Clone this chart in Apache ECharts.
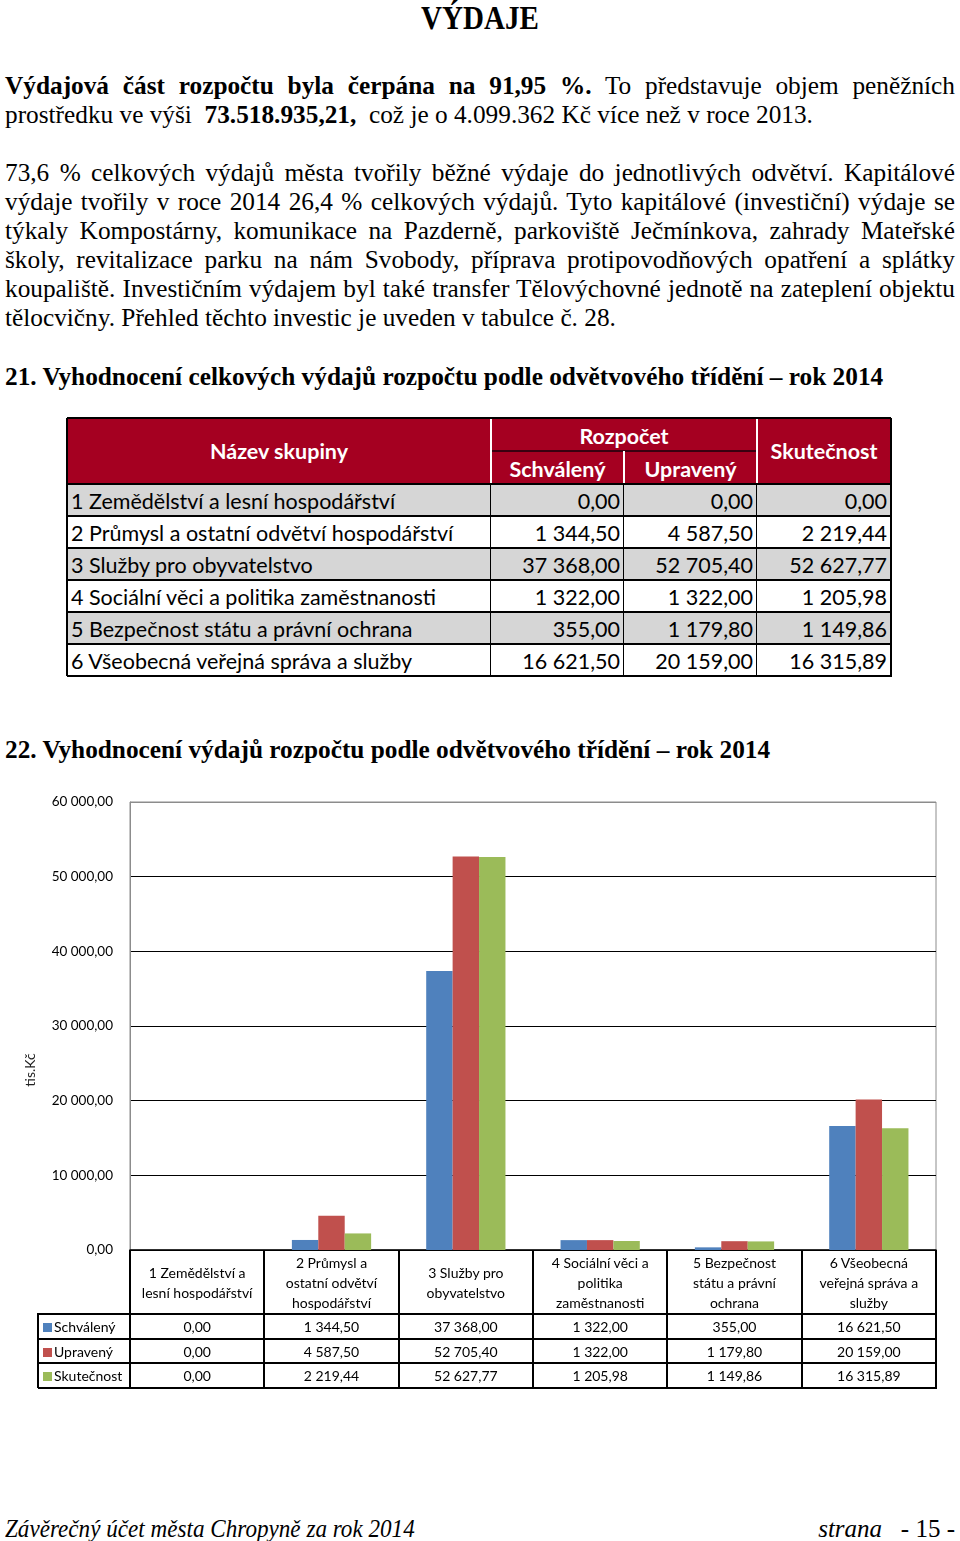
<!DOCTYPE html>
<html><head><meta charset="utf-8">
<script src="https://cdn.jsdelivr.net/npm/echarts@6.0.0/dist/echarts.min.js"></script>
<style>
html,body{margin:0;padding:0;background:#fff}
body{width:960px;height:1541px;position:relative;overflow:hidden;font-family:"Liberation Serif","Times New Roman",serif;color:#000}
.tx{position:absolute;left:5px;white-space:nowrap;transform-origin:0 0;font-size:25.3px;line-height:29px;height:29px}
.j{text-align:justify;text-align-last:justify;width:950px}
.b{font-weight:bold}
.cell{position:absolute;box-sizing:border-box;font-family:Lato,"Open Sans",sans-serif;white-space:nowrap;overflow:hidden}
.t1{font-size:21.5px;line-height:32px}
.t2{font-size:14px;color:#000;text-align:center}
.hl{position:absolute;background:#000}
#chart{position:absolute;left:0;top:780px;width:960px;height:620px}
</style>
</head><body>

<div class="tx b" style="left:480px;top:2px;font-size:33px;line-height:32px;transform:translateX(-50%) scaleX(0.88);transform-origin:50% 0">VÝDAJE</div>

<div class="tx j" style="top:71px"><span class="b">Výdajová část rozpočtu byla čerpána na 91,95 %.</span> To představuje objem peněžních</div>
<div class="tx" style="top:100px">prostředku ve výši &nbsp;<span class="b">73.518.935,21,</span> &nbsp;což je o 4.099.362 Kč více než v roce 2013.</div>

<div class="tx j" style="top:158px">73,6 % celkových výdajů města tvořily běžné výdaje do jednotlivých odvětví. Kapitálové</div>
<div class="tx j" style="top:187px">výdaje tvořily v roce 2014 26,4 % celkových výdajů. Tyto kapitálové (investiční) výdaje se</div>
<div class="tx j" style="top:216px">týkaly Kompostárny, komunikace na Pazderně, parkoviště Ječmínkova, zahrady Mateřské</div>
<div class="tx j" style="top:245px">školy, revitalizace parku na nám Svobody, příprava protipovodňových opatření a splátky</div>
<div class="tx j" style="top:274px">koupaliště. Investičním výdajem byl také transfer Tělovýchovné jednotě na zateplení objektu</div>
<div class="tx" style="top:303px">tělocvičny. Přehled těchto investic je uveden v tabulce č. 28.</div>

<div class="tx b" style="top:362px">21. Vyhodnocení celkových výdajů rozpočtu podle odvětvového třídění – rok 2014</div>

<div id="table21"></div>

<div class="tx b" style="top:735px">22. Vyhodnocení výdajů rozpočtu podle odvětvového třídění – rok 2014</div>

<div id="chart"></div>
<div id="dtable"></div>

<div class="tx" style="top:1514px;font-style:italic;font-size:25px;transform:scaleX(0.925)">Závěrečný účet města Chropyně za rok 2014</div>
<div class="tx" style="left:auto;right:5px;top:1514px;font-size:25px"><i>strana</i> &nbsp;&nbsp;- 15 -</div>

<script>
// ---- data ----
var groupNames = [
  "1 Zemědělství a lesní hospodářství",
  "2 Průmysl a ostatní odvětví hospodářství",
  "3 Služby pro obyvatelstvo",
  "4 Sociální věci a politika zaměstnanosti",
  "5 Bezpečnost státu a právní ochrana",
  "6 Všeobecná veřejná správa a služby"
];
var categoryLabels = [
  "1 Zemědělství a\nlesní hospodářství",
  "2 Průmysl a\nostatní odvětví\nhospodářství",
  "3 Služby pro\nobyvatelstvo",
  "4 Sociální věci a\npolitika\nzaměstnanosti",
  "5 Bezpečnost\nstátu a právní\nochrana",
  "6 Všeobecná\nveřejná správa a\nslužby"
];
var schvaleny  = [0.00, 1344.50, 37368.00, 1322.00, 355.00, 16621.50];
var upraveny   = [0.00, 4587.50, 52705.40, 1322.00, 1179.80, 20159.00];
var skutecnost = [0.00, 2219.44, 52627.77, 1205.98, 1149.86, 16315.89];
var seriesNames = ["Schválený", "Upravený", "Skutečnost"];
var seriesColors = ["#4F81BD", "#C0504D", "#9BBB59"];
var yTicks = [0, 10000, 20000, 30000, 40000, 50000, 60000];

function fmt(v){
  var s = v.toFixed(2).split(".");
  var i = s[0].replace(/\B(?=(\d{3})+(?!\d))/g, " ");
  return i + "," + s[1];
}

// ---- table 21 ----
(function(){
  var host = document.getElementById("table21");
  var T = 418;
  var cols = [67, 491, 624, 757, 891];
  var red = "#A50021", gray = "#D6D6D6";
  var html = "";
  function box(x, y, w, h, bg, txt, cls, style){
    html += '<div class="cell ' + cls + '" style="left:' + x + 'px;top:' + y + 'px;width:' + w + 'px;height:' + h + 'px;background:' + bg + ';' + (style||"") + '">' + txt + '</div>';
  }
  var hs = "color:#fff;font-weight:bold;text-align:center;";
  box(cols[0], T, cols[1]-cols[0], 66, red, "Název skupiny", "t1", hs + "line-height:66px");
  box(cols[1], T, cols[3]-cols[1], 33, red, "Rozpočet", "t1", hs + "line-height:36px");
  box(cols[1], T+33, cols[2]-cols[1], 33, red, "Schválený", "t1", hs + "line-height:36px");
  box(cols[2], T+33, cols[3]-cols[2], 33, red, "Upravený", "t1", hs + "line-height:36px");
  box(cols[3], T, cols[4]-cols[3], 66, red, "Skutečnost", "t1", hs + "line-height:66px");
  html += '<div class="hl" style="left:' + cols[1] + 'px;top:' + (T+32) + 'px;width:' + (cols[3]-cols[1]) + 'px;height:2px;background:#3a0010"></div>';
  [1,3].forEach(function(k){ html += '<div class="hl" style="left:' + (cols[k]-1) + 'px;top:' + T + 'px;width:2px;height:66px;background:#fff"></div>'; });
  html += '<div class="hl" style="left:' + (cols[2]-1) + 'px;top:' + (T+33) + 'px;width:2px;height:33px;background:#fff"></div>';
  var vals = [schvaleny, upraveny, skutecnost];
  for (var r = 0; r < groupNames.length; r++){
    var y = T + 66 + r*32;
    var bg = (r % 2 === 0) ? gray : "#fff";
    box(cols[0], y, cols[1]-cols[0], 32, bg, groupNames[r], "t1", "padding-left:4px;line-height:34px");
    for (var c = 0; c < 3; c++){
      box(cols[c+1], y, cols[c+2]-cols[c+1], 32, bg, fmt(vals[c][r]), "t1", "text-align:right;padding-right:4px;line-height:34px");
    }
    html += '<div class="hl" style="left:' + cols[0] + 'px;top:' + (y-1) + 'px;width:' + (cols[4]-cols[0]) + 'px;height:2px"></div>';
  }
  cols.forEach(function(x, k){
    var top = (k === 0 || k === 4) ? T : T + 66;
    html += '<div class="hl" style="left:' + (x-1) + 'px;top:' + top + 'px;width:' + ((k===0||k===4)?2:1) + 'px;height:' + (T + 66 + 6*32 - top) + 'px"></div>';
  });
  html += '<div class="hl" style="left:' + cols[0] + 'px;top:' + (T-1) + 'px;width:' + (cols[4]-cols[0]) + 'px;height:2px"></div>';
  html += '<div class="hl" style="left:' + cols[0] + 'px;top:' + (T+66+6*32-1) + 'px;width:' + (cols[4]-cols[0]+1) + 'px;height:2px"></div>';
  host.innerHTML = html;
})();

// ---- chart ----
var chart = echarts.init(document.getElementById("chart"), null, {renderer: "canvas"});
var gridLeft = 130, gridTop = 22, gridW = 806, gridH = 448;
var splitColors = yTicks.map(function(t, i){ return i === yTicks.length - 1 ? "#8c8c8c" : "#000"; });
chart.setOption({
  animation: false,
  grid: {left: gridLeft, top: gridTop, width: gridW, height: gridH, show: true, borderColor: "#8c8c8c", borderWidth: 1, backgroundColor: "#fff"},
  xAxis: {
    type: "category", data: categoryLabels,
    axisLine: {show: true, lineStyle: {color: "#000", width: 1.5}},
    axisTick: {show: false}, axisLabel: {show: false}, splitLine: {show: false}
  },
  yAxis: {
    type: "value", min: yTicks[0], max: yTicks[yTicks.length-1], interval: 10000,
    axisLine: {show: true, lineStyle: {color: "#8c8c8c"}},
    axisTick: {show: false},
    axisLabel: {formatter: function(v){ return fmt(v); }, fontFamily: "Lato", fontSize: 13.5, color: "#000", margin: 17},
    splitLine: {show: true, lineStyle: {color: splitColors, width: 1}}
  },
  graphic: [{
    type: "text", x: 30, y: 290, rotation: Math.PI/2,
    style: {text: "tis.Kč", font: '14px Lato', fill: "#222", textAlign: "center", textVerticalAlign: "middle"}
  }],
  series: [schvaleny, upraveny, skutecnost].map(function(d, i){
    return {type: "bar", name: seriesNames[i], data: d, barGap: "0%", barCategoryGap: "41%",
      itemStyle: {color: seriesColors[i]}};
  })
});

// ---- data table under the chart ----
(function(){
  var host = document.getElementById("dtable");
  var top0 = 780 + gridTop + gridH;
  var legL = 38;
  var colW = gridW / categoryLabels.length;
  var rowsY = [top0, top0 + 64, top0 + 89, top0 + 113, top0 + 138];
  var html = "";
  function line(x, y, w, h){ html += '<div class="hl" style="left:' + x + 'px;top:' + y + 'px;width:' + w + 'px;height:' + h + 'px"></div>'; }
  for (var c = 0; c < categoryLabels.length; c++){
    var x = gridLeft + c*colW;
    var lines = categoryLabels[c].split("\n");
    var lh = 20;
    var h = lines.length * lh;
    html += '<div class="cell t2" style="left:' + x + 'px;top:' + (top0 + (64 - h)/2 + 1) + 'px;width:' + colW + 'px;line-height:' + lh + 'px;white-space:pre">' + lines.join("\n") + '</div>';
  }
  var vals = [schvaleny, upraveny, skutecnost];
  for (var r = 0; r < 3; r++){
    var y = rowsY[r+1], hh = rowsY[r+2] - rowsY[r+1];
    html += '<div class="cell t2" style="left:' + legL + 'px;top:' + y + 'px;width:' + (gridLeft-legL) + 'px;height:' + hh + 'px;line-height:' + (hh+1) + 'px;text-align:left;padding-left:5px">' +
      '<span style="display:inline-block;width:9px;height:9px;background:' + seriesColors[r] + ';margin-right:2px;vertical-align:0px"></span>' + seriesNames[r] + '</div>';
    for (var c2 = 0; c2 < categoryLabels.length; c2++){
      html += '<div class="cell t2" style="left:' + (gridLeft + c2*colW) + 'px;top:' + y + 'px;width:' + colW + 'px;height:' + hh + 'px;line-height:' + (hh+1) + 'px">' + fmt(vals[r][c2]) + '</div>';
    }
  }
  for (var k = 1; k < rowsY.length; k++){ line(legL, rowsY[k]-1, gridLeft + gridW - legL + 1, 1.5); }
  for (var c3 = 0; c3 <= categoryLabels.length; c3++){
    var xx = gridLeft + c3*colW;
    line(Math.round(xx)-1, top0, 1.5, rowsY[4]-top0);
  }
  line(legL-1, rowsY[1]-1, 1.5, rowsY[4]-rowsY[1]+1);
  host.innerHTML = html;
})();
</script>
</body></html>
